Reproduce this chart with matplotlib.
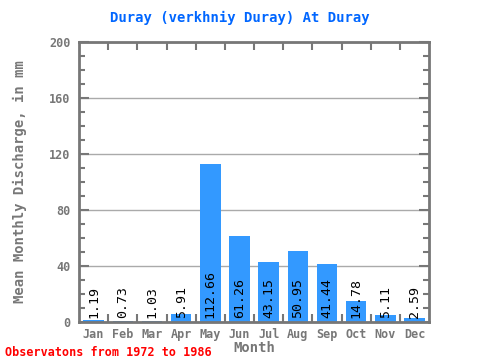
import numpy as np
import matplotlib
matplotlib.use("Agg")
import matplotlib.pyplot as plt
from matplotlib.ticker import MultipleLocator, FixedLocator

months = ["Jan", "Feb", "Mar", "Apr", "May", "Jun", "Jul", "Aug", "Sep", "Oct", "Nov", "Dec"]
discharge = [1.19, 0.73, 1.03, 5.91, 112.66, 61.26, 43.15, 50.95, 41.44, 14.78, 5.11, 2.59]

gray = "#777777"
mono = "DejaVu Sans Mono"

fig = plt.figure(figsize=(4.8, 3.6), dpi=100)
ax = fig.add_axes([0.1646, 0.1056, 0.7294, 0.7774])

x = np.arange(len(months))
ax.bar(x, discharge, width=0.7, color="#3399ff", zorder=2)
for xi, v in zip(x, discharge):
    ax.text(xi, 2.5, f"{v:.2f}", rotation=90, ha="center", va="bottom",
            fontsize=9.5, family=mono, color="black", zorder=3)

ax.set_xlim(-0.5, 11.5)
ax.set_ylim(0, 200)
ax.set_yticks([0, 40, 80, 120, 160, 200])
ax.yaxis.set_minor_locator(MultipleLocator(10))
ax.set_xticks(x)
ax.set_xticklabels(months)
ax.xaxis.set_minor_locator(FixedLocator(np.arange(0.5, 11, 1)))
ax.grid(axis="y", color="#aaaaaa", linewidth=1, zorder=1)

for s in ax.spines.values():
    s.set_color(gray)
    s.set_linewidth(2)

ax.tick_params(axis="y", which="both", direction="in", right=True, color=gray,
               labelcolor=gray, labelsize=8.5, width=1.5)
ax.tick_params(axis="y", which="major", length=7, pad=6)
ax.tick_params(axis="y", which="minor", length=4)
ax.tick_params(axis="x", which="major", length=0, labelcolor=gray, labelsize=8.5, pad=4)
ax.tick_params(axis="x", which="minor", direction="in", top=True, length=6,
               width=1.5, color=gray)
for lab in ax.get_xticklabels() + ax.get_yticklabels():
    lab.set_family(mono)
    lab.set_fontweight("bold")

ax.set_xlabel("Month", family=mono, fontsize=10, fontweight="bold", color=gray, labelpad=0)
ax.set_ylabel("Mean Monthly Discharge, in mm", family=mono, fontsize=10,
              fontweight="bold", color=gray, labelpad=16)
fig.text(0.5, 0.95, "Duray (verkhniy Duray) At Duray", ha="center", va="center",
         family=mono, fontsize=10, fontweight="bold", color="#0066ff")
fig.text(0.01, 0.022, "Observatons from 1972 to 1986", ha="left", va="center",
         family=mono, fontsize=8.5, fontweight="bold", color="red")

fig.savefig("out.png", dpi=100)
